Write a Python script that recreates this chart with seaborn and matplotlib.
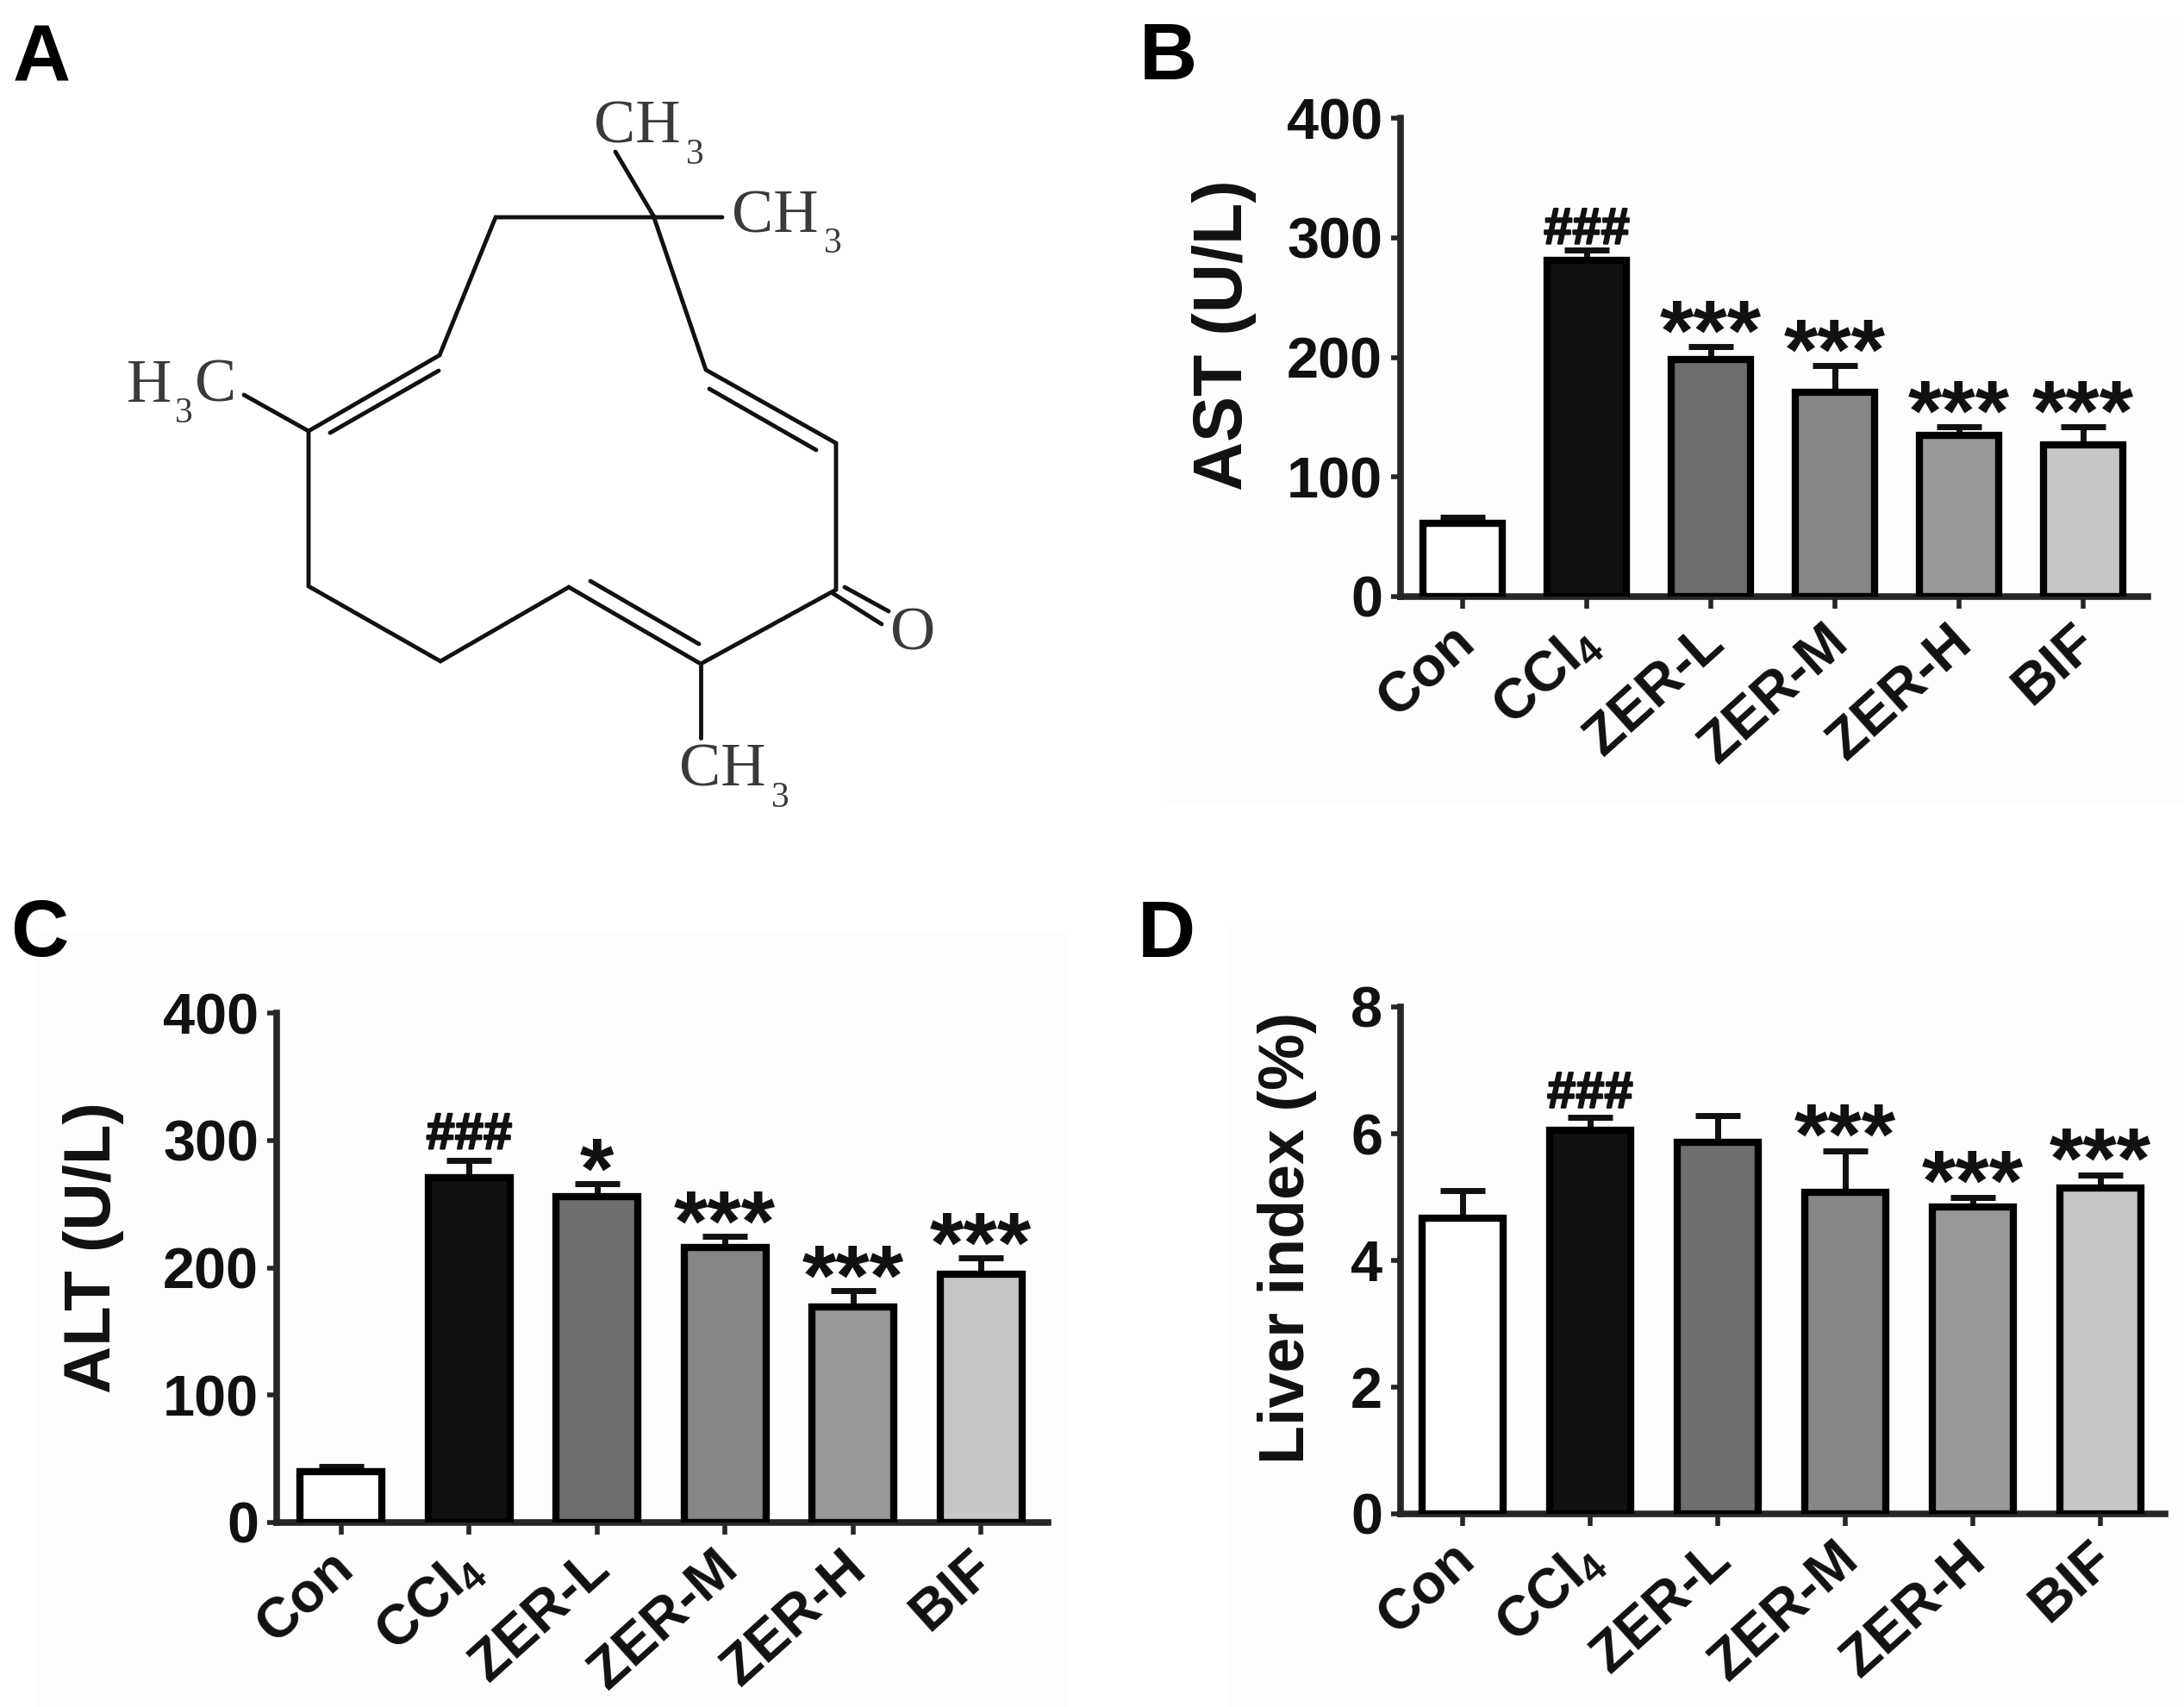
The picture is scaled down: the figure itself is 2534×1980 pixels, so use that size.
import matplotlib
matplotlib.use('Agg')
import matplotlib.pyplot as plt
from matplotlib.patches import Rectangle
from matplotlib.transforms import ScaledTranslation
import matplotlib.patheffects as pe
import pandas as pd
import seaborn as sns

groups = ['Con', 'CCl$_{4}$', 'ZER-L', 'ZER-M', 'ZER-H', 'BIF']
bar_colors = ['#ffffff', '#111111', '#6e6e6e', '#868686', '#989898', '#c6c6c6']

ast_mean = [61, 281, 198, 171, 135, 127]
ast_top = [66, 290, 209, 193, 142, 142]
ast_marks = ['', '###', '***', '***', '***', '***']

alt_mean = [40, 271, 256, 216, 169, 195]
alt_top = [44, 284, 266, 225, 182, 208]
alt_marks = ['', '###', '*', '***', '***', '***']

liver_mean = [4.67, 6.06, 5.86, 5.08, 4.85, 5.14]
liver_top = [5.10, 6.26, 6.28, 5.73, 5.00, 5.35]
liver_marks = ['', '###', '', '***', '***', '***']

# structure in panel A, in pixels of the picture
bonds = [
    [(714, 176), (758, 250), (819, 429), (970, 514), (970, 684), (813, 770), (660, 681), (511, 767), (358, 680), (358, 500), (510, 412), (575, 252), (838, 252)],
    [(358, 500), (283, 458)],
    [(813, 770), (813, 856)],
    [(383, 502), (509, 430)],
    [(823, 451), (947, 522)],
    [(685, 674), (811, 747)],
    [(966, 688), (1023, 724)],
    [(980, 681), (1031, 709)],
]
atoms = [('CH', 689, 166), ('CH', 849, 269), ('H', 147, 466), ('C', 226, 466), ('O', 1033, 753), ('CH', 788, 912)]
subscripts = [('3', 796, 190), ('3', 956, 293), ('3', 203, 490), ('3', 895, 936)]

W, H = 2534, 1980

sns.set_theme(style='ticks')
plt.rcParams['font.family'] = ['Liberation Sans', 'DejaVu Sans']
plt.rcParams['font.weight'] = 'bold'
plt.rcParams['mathtext.default'] = 'regular'
plt.rcParams['axes.linewidth'] = 5.5


def box(left, right, top, bottom):
    return [left / W, 1 - bottom / H, (right - left) / W, (bottom - top) / H]


def bars(rect, mean, upper, marks, ylabel, yticks, xlim, label_xy, label_size, gap):
    ax = fig.add_axes(box(*rect))
    ax.patch.set_visible(False)
    df = pd.DataFrame({'group': groups, 'mean': mean})
    sns.barplot(data=df, x='group', y='mean', hue='group', palette=bar_colors, dodge=False,
                saturation=1, width=0.64, edgecolor='black', linewidth=6, legend=False, ax=ax, zorder=3)
    err = [u - m for u, m in zip(upper, mean)]
    ax.errorbar(range(6), mean, yerr=[[0] * 6, err], fmt='none', ecolor='#111111',
                elinewidth=5, capsize=19, capthick=5, zorder=2)
    for i, m in enumerate(marks):
        if m == '###':
            ax.annotate(m, (i, upper[i]), xytext=(0, gap[0]), textcoords='offset points',
                        ha='center', va='baseline', fontsize=43, color='#111111', zorder=4,
                        path_effects=[pe.withStroke(linewidth=1.5, foreground='#111111')])
        elif m:
            ax.annotate(m, (i, upper[i]), xytext=(0, gap[1]), textcoords='offset points',
                        ha='center', va='baseline', fontsize=73, color='#111111', zorder=4)
    ax.set_xlim(*xlim)
    ax.set_ylim(yticks[0], yticks[-1])
    ax.set_yticks(yticks)
    ax.set_xlabel('')
    ax.set_ylabel(ylabel, fontsize=label_size, fontweight='bold', va='center', color='#111111')
    ax.yaxis.set_label_coords((label_xy[0] - rect[0]) / (rect[1] - rect[0]),
                              (rect[3] - label_xy[1]) / (rect[3] - rect[2]))
    ax.tick_params(axis='y', length=8, width=4, labelsize=48, pad=7, labelcolor='#111111')
    ax.tick_params(axis='x', length=10, width=4, labelsize=47, pad=6, labelcolor='#111111')
    shift = ScaledTranslation(-10 / 72, 0, fig.dpi_scale_trans)
    for lab in ax.get_xticklabels():
        lab.set(rotation=42, ha='right', rotation_mode='anchor')
        lab.set_transform(lab.get_transform() + shift)
    sns.despine(ax=ax)
    return ax


fig = plt.figure(figsize=(W / 100, H / 100), dpi=100, facecolor='white')

bg = fig.add_axes([0, 0, 1, 1])
bg.set_xlim(0, W)
bg.set_ylim(H, 0)
bg.axis('off')
for x0, y0, x1, y1 in [(1347, 25, 2534, 934), (40, 1081, 1240, 1980), (1426, 1075, 2534, 1980)]:
    bg.add_patch(Rectangle((x0, y0), x1 - x0, y1 - y0, facecolor='#fdfdfc', edgecolor='none'))
for b in bonds:
    bg.plot([p[0] for p in b], [p[1] for p in b], color='#111111', lw=3.5, solid_joinstyle='miter')
for t, x, y in atoms:
    bg.text(x, y, t, family=['Liberation Serif'], fontweight='normal', fontsize=52, color='#3a3a3a',
            ha='left', va='baseline')
for t, x, y in subscripts:
    bg.text(x, y, t, family=['Liberation Serif'], fontweight='normal', fontsize=30, color='#3a3a3a',
            ha='left', va='baseline')
for t, x, y in [('A', 15, 94), ('B', 1322, 92), ('C', 12, 1109), ('D', 1320, 1110)]:
    bg.text(x, y, t, fontsize=67, fontweight='bold', color='black', ha='left', va='baseline')

bars((1625, 2492, 137, 692), ast_mean, ast_top, ast_marks, 'AST (U/L)', [0, 100, 200, 300, 400],
     (-0.5, 5.52), (1420, 389), 57, (5, -11))
bars((321, 1216, 1175, 1766), alt_mean, alt_top, alt_marks, 'ALT (U/L)', [0, 100, 200, 300, 400],
     (-0.505, 5.525), (108, 1447), 55, (10, -12))
bars((1625, 2512, 1168, 1756), liver_mean, liver_top, liver_marks, 'Liver index (%)', [0, 2, 4, 6, 8],
     (-0.486, 5.507), (1493, 1436), 53, (8, -11))

fig.savefig('out.png', dpi=100)
